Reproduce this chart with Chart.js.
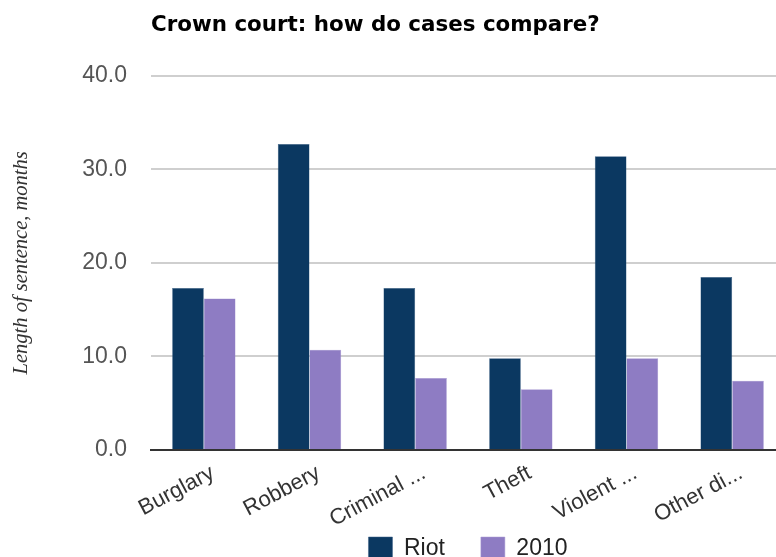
<!DOCTYPE html>
<html>
<head>
<meta charset="utf-8">
<script src="https://cdn.jsdelivr.net/npm/chart.js@4"></script>
<style>
  html, body { margin: 0; padding: 0; background: #fff; overflow: hidden; }
  #wrap { width: 790px; height: 571px; position: relative; }
</style>
</head>
<body>
<div id="wrap"><canvas id="grafico"></canvas></div>
<script>
const categorias = ["Burglary", "Robbery", "Criminal ...", "Theft", "Violent ...", "Other di..."];
const riot = [17.3, 32.7, 17.3, 9.8, 31.4, 18.5];
const ano2010 = [16.2, 10.7, 7.7, 6.5, 9.8, 7.4];
const series = ["Riot", "2010"];
const charts = {};

// os rótulos girados passam por baixo da legenda, então não corta no limite do eixo
const rotulosSemCorte = {
  id: "rotulosSemCorte",
  beforeDraw(chart) {
    chart.scales.x.bottom = chart.height;
  },
};

function renderComparacao(canvasId) {
  if (charts[canvasId]) charts[canvasId].destroy();
  const ctx = document.getElementById(canvasId)?.getContext("2d");
  if (!ctx) return;

  charts[canvasId] = new Chart(ctx, {
    type: "bar",
    data: {
      labels: categorias,
      datasets: [
        { label: series[0], data: riot, backgroundColor: "#0b3861", borderColor: "#3a5f85", borderWidth: 0.5 },
        { label: series[1], data: ano2010, backgroundColor: "#8e7cc3", borderColor: "#a89ad2", borderWidth: 0.5 },
      ],
    },
    plugins: [rotulosSemCorte],
    options: {
      responsive: true,
      maintainAspectRatio: false,
      animation: false,
      layout: { padding: { left: 0, right: 5, top: 0, bottom: 0 } },
      datasets: { bar: { categoryPercentage: 0.6, barPercentage: 1.0 } },
      plugins: {
        title: {
          display: true,
          text: "Crown court: how do cases compare?",
          align: "start",
          fullSize: false,
          color: "#000",
          font: { family: "DejaVu Sans", size: 21.4, weight: "bold" },
          padding: { top: 13, bottom: 37 },
        },
        legend: {
          position: "bottom",
          fullSize: false,
          labels: {
            color: "#222",
            font: { family: "Liberation Sans", size: 23 },
            boxWidth: 24,
            boxHeight: 24,
            padding: 36,
          },
        },
        tooltip: { enabled: false },
      },
      scales: {
        x: {
          afterFit: (s) => { s.height = 51; },
          grid: { display: false, drawTicks: false },
          border: { color: "#333", width: 2 },
          ticks: {
            color: "#333",
            font: { family: "Liberation Sans", size: 22 },
            autoSkip: false,
            minRotation: 28,
            maxRotation: 28,
            padding: 10,
            labelOffset: 9,
          },
        },
        y: {
          min: 0,
          max: 40,
          afterFit: (s) => { s.width = 151; },
          grid: { color: "#cfcfcf", lineWidth: 2, drawTicks: false },
          border: { display: false },
          ticks: {
            stepSize: 10,
            color: "#555",
            padding: 24,
            font: { family: "Liberation Sans", size: 23 },
            callback: (v) => v.toFixed(1),
          },
          title: {
            display: true,
            text: "Length of sentence, months",
            color: "#333",
            font: { family: "Liberation Serif", size: 20.5, style: "italic" },
            padding: { top: 9, bottom: 0 },
          },
        },
      },
    },
  });
}

renderComparacao("grafico");
</script>
</body>
</html>
